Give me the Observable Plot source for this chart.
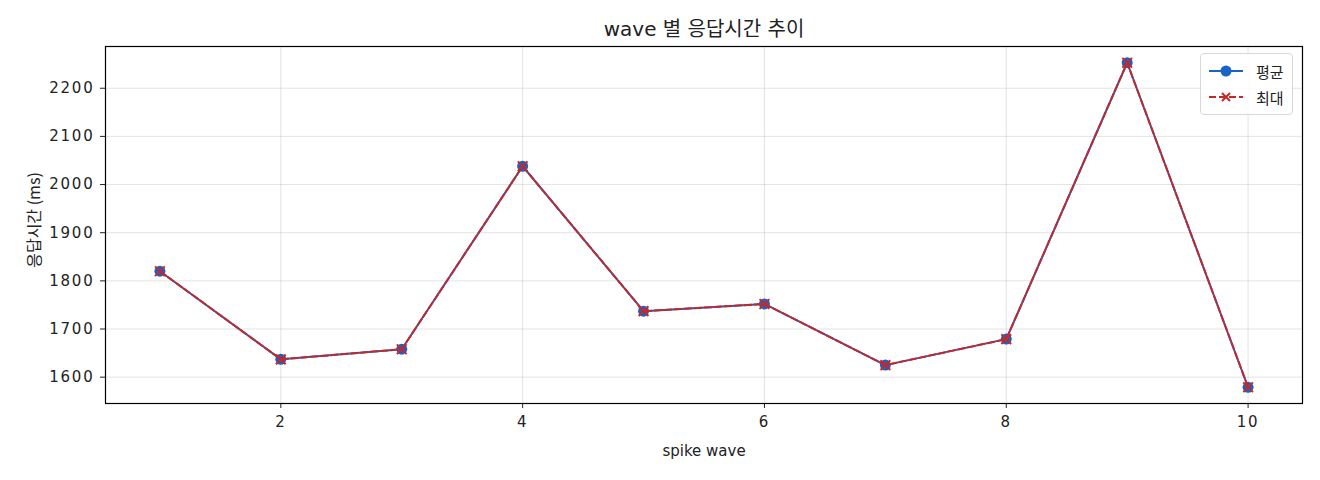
<!DOCTYPE html>
<html>
<head>
<meta charset="utf-8">
<script src="https://cdn.jsdelivr.net/npm/d3@7"></script>
<script src="https://cdn.jsdelivr.net/npm/@observablehq/plot@0.6"></script>
<style>
  html, body { margin: 0; padding: 0; background: #fff; }
  #wrap { position: relative; width: 1320px; height: 480px; font-family: "DejaVu Sans", "Noto Sans CJK KR", sans-serif; }
  #wrap svg g[aria-label="x-axis tick label"] text,
  #wrap svg g[aria-label="y-axis tick label"] text { letter-spacing: 1.8px; }
  #legend { position: absolute; left: 1200px; top: 53px; width: 93px; height: 62px; box-sizing: border-box;
    border: 1px solid #d8d8d8; border-radius: 4px; background: rgba(255,255,255,0.85); font-size: 15px; color: #222;
    font-family: "Noto Sans CJK KR", sans-serif; }
  .item { display: flex; align-items: center; height: 26px; padding-left: 6px; }
  .item:first-child { margin-top: 4px; }
  .item svg { margin-right: 11px; }
</style>
</head>
<body>
<div id="wrap"></div>
<script>
const waves = [1, 2, 3, 4, 5, 6, 7, 8, 9, 10];
const avgMs = [1820, 1637, 1658, 2038, 1737, 1752, 1625, 1679, 2253, 1579];
const maxMs = [1820, 1637, 1658, 2038, 1737, 1752, 1625, 1679, 2253, 1579];
const xTicks = [2, 4, 6, 8, 10];
const yTicks = [1600, 1700, 1800, 1900, 2000, 2100, 2200];
const seriesNames = ["평균", "최대"];
const titleText = "wave 별 응답시간 추이";
const xLabel = "spike wave";
const yLabel = "응답시간 (ms)";

const blue = "#1a62c4";
const red = "#c62828";

const avgData = waves.map((w, i) => ({wave: w, ms: avgMs[i]}));
const maxData = waves.map((w, i) => ({wave: w, ms: maxMs[i]}));

const font = '"DejaVu Sans", "Noto Sans CJK KR", sans-serif';

const chart = Plot.plot({
  width: 1320,
  height: 480,
  marginLeft: 105,
  marginRight: 18,
  marginTop: 46,
  marginBottom: 77,
  style: {fontFamily: font, fontSize: "15px", color: "#222", background: "#fff"},
  x: {domain: [0.55, 10.45]},
  y: {domain: [1545.3, 2286.7]},
  marks: [
    Plot.gridX(xTicks, {stroke: "#b0b0b0", strokeOpacity: 0.35, strokeWidth: 1}),
    Plot.gridY(yTicks, {stroke: "#b0b0b0", strokeOpacity: 0.35, strokeWidth: 1}),
    Plot.axisX(xTicks, {tickSize: 5, tickPadding: 8, label: null, tickFormat: d => String(d), fontSize: 15}),
    Plot.axisY(yTicks, {tickSize: 5, tickPadding: 6, label: null, tickFormat: d => String(d), fontSize: 15}),
    Plot.text([xLabel], {frameAnchor: "bottom", lineAnchor: "middle", dy: 48, text: d => d, fontSize: 15, fill: "#222"}),
    Plot.text([yLabel], {frameAnchor: "left", textAnchor: "middle", lineAnchor: "middle", dx: -71, dy: -5, rotate: -90, text: d => d, fontSize: 16, fill: "#222", fontFamily: '"Noto Sans CJK KR", sans-serif'}),
    Plot.text([titleText], {frameAnchor: "top", lineAnchor: "middle", dy: -17, text: d => d, fontSize: 20, fill: "#222"}),
    Plot.frame({stroke: "#000", strokeWidth: 1.2}),
    Plot.line(avgData, {x: "wave", y: "ms", stroke: blue, strokeWidth: 2}),
    Plot.dot(avgData, {x: "wave", y: "ms", fill: blue, r: 5.5, stroke: "none"}),
    Plot.line(maxData, {x: "wave", y: "ms", stroke: red, strokeWidth: 2, strokeDasharray: "7,3"}),
    Plot.dot(maxData, {x: "wave", y: "ms", symbol: "times", stroke: red, strokeWidth: 2, r: 4.5})
  ]
});

const wrap = document.getElementById("wrap");
wrap.appendChild(chart);

const legend = document.createElement("div");
legend.id = "legend";
legend.innerHTML = `
  <div class="item"><svg width="38" height="14"><line x1="2" y1="7" x2="36" y2="7" stroke="${blue}" stroke-width="2"/><circle cx="19" cy="7" r="5.5" fill="${blue}"/></svg>${seriesNames[0]}</div>
  <div class="item"><svg width="38" height="14"><line x1="2" y1="7" x2="36" y2="7" stroke="${red}" stroke-width="2" stroke-dasharray="7,3"/><path d="M15,3L23,11M23,3L15,11" stroke="${red}" stroke-width="2"/></svg>${seriesNames[1]}</div>`;
wrap.appendChild(legend);
</script>
</body>
</html>
